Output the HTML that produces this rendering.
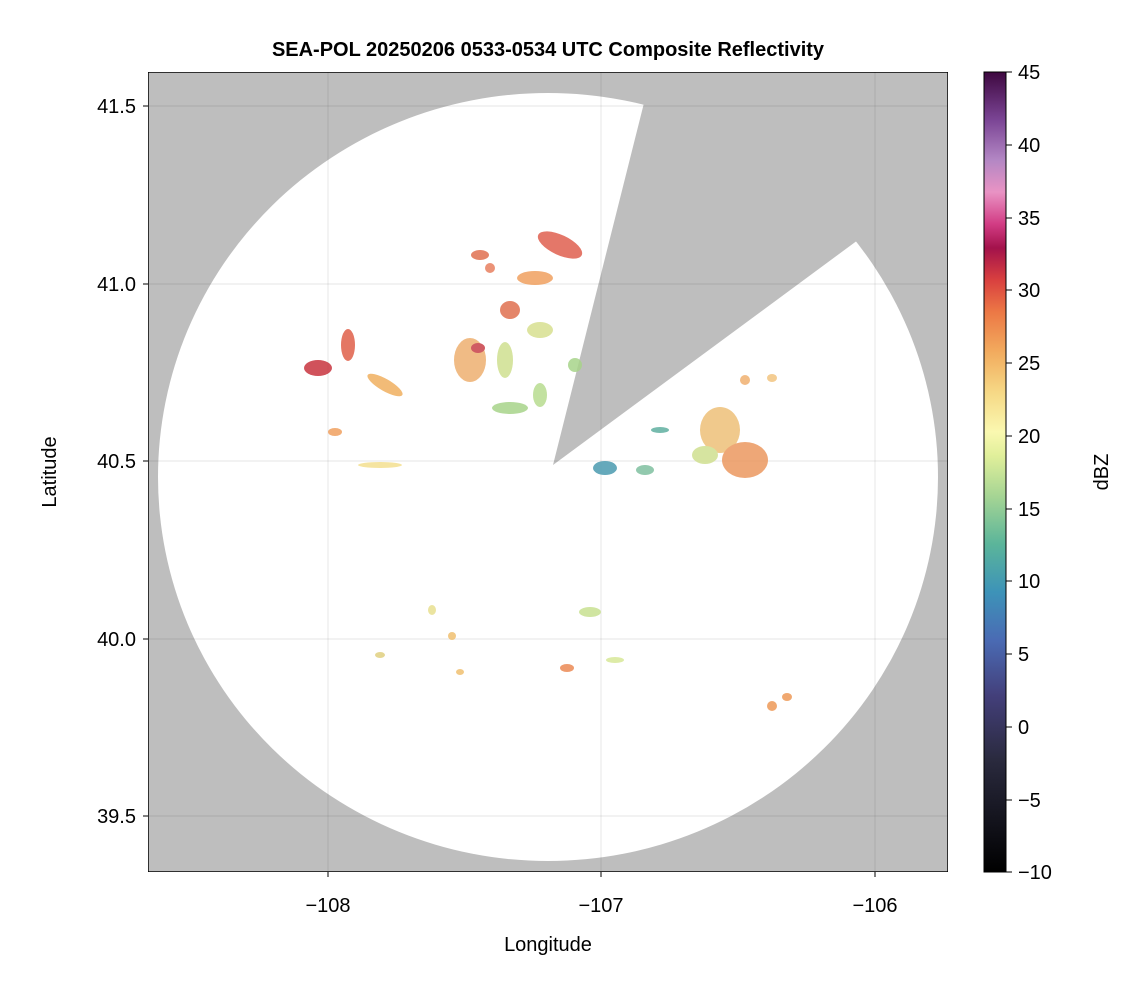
<!DOCTYPE html>
<html><head><style>
body{margin:0;background:#fff;font-family:"Liberation Sans",sans-serif;}
</style></head><body>
<svg width="1146" height="990" xmlns="http://www.w3.org/2000/svg" font-family="Liberation Sans, sans-serif">
<defs>
<clipPath id="pc"><rect x="148" y="72" width="800" height="800"/></clipPath>
<linearGradient id="cb" x1="0" y1="1" x2="0" y2="0">
<stop offset="0" stop-color="#000"/>
<stop offset="0.14" stop-color="#2a2a3e"/>
<stop offset="0.22" stop-color="#433f7a"/>
<stop offset="0.29" stop-color="#4a6bb4"/>
<stop offset="0.35" stop-color="#3d93b8"/>
<stop offset="0.41" stop-color="#5bb59a"/>
<stop offset="0.47" stop-color="#a6d594"/>
<stop offset="0.52" stop-color="#e0ef9a"/>
<stop offset="0.55" stop-color="#faf8b0"/>
<stop offset="0.6" stop-color="#f6d885"/>
<stop offset="0.65" stop-color="#f2ab5e"/>
<stop offset="0.7" stop-color="#ec7845"/>
<stop offset="0.74" stop-color="#d9403f"/>
<stop offset="0.78" stop-color="#a3124b"/>
<stop offset="0.81" stop-color="#d23c84"/>
<stop offset="0.85" stop-color="#e993c4"/>
<stop offset="0.89" stop-color="#b387c4"/>
<stop offset="0.94" stop-color="#7b4595"/>
<stop offset="1" stop-color="#3e0840"/>
</linearGradient>
</defs>
<text x="548" y="56" font-size="20" font-weight="bold" text-anchor="middle">SEA-POL 20250206 0533-0534 UTC Composite Reflectivity</text>
<rect x="148" y="72" width="800" height="800" fill="#bebebe"/>
<g clip-path="url(#pc)">
<ellipse cx="548" cy="477" rx="390" ry="384" fill="#fff"/>
<polygon points="553,465 646,95 650,40 990,40 990,150 858,240" fill="#bebebe"/>
<g stroke="#000" stroke-opacity="0.08" stroke-width="1.2">
<line x1="328" y1="72" x2="328" y2="872"/><line x1="601" y1="72" x2="601" y2="872"/><line x1="875" y1="72" x2="875" y2="872"/>
<line x1="148" y1="106" x2="948" y2="106"/><line x1="148" y1="284" x2="948" y2="284"/><line x1="148" y1="461" x2="948" y2="461"/><line x1="148" y1="639" x2="948" y2="639"/><line x1="148" y1="816" x2="948" y2="816"/>
</g>
<g opacity="0.85">
<ellipse cx="318" cy="368" rx="14" ry="8" fill="#c8343f"/>
<ellipse cx="348" cy="345" rx="7" ry="16" fill="#e0604a"/>
<ellipse cx="385" cy="385" rx="20" ry="6" fill="#f0b060" transform="rotate(30 385 385)"/>
<ellipse cx="335" cy="432" rx="7" ry="4" fill="#f0a060"/>
<ellipse cx="380" cy="465" rx="22" ry="3" fill="#f4e090"/>
<ellipse cx="480" cy="255" rx="9" ry="5" fill="#e07050"/>
<ellipse cx="490" cy="268" rx="5" ry="5" fill="#e88060"/>
<ellipse cx="560" cy="245" rx="24" ry="10" fill="#e06050" transform="rotate(25 560 245)"/>
<ellipse cx="535" cy="278" rx="18" ry="7" fill="#f0a060"/>
<ellipse cx="510" cy="310" rx="10" ry="9" fill="#e07050"/>
<ellipse cx="540" cy="330" rx="13" ry="8" fill="#d8e090"/>
<ellipse cx="470" cy="360" rx="16" ry="22" fill="#eeb070"/>
<ellipse cx="478" cy="348" rx="7" ry="5" fill="#c84048"/>
<ellipse cx="505" cy="360" rx="8" ry="18" fill="#cfe090"/>
<ellipse cx="510" cy="408" rx="18" ry="6" fill="#a8d48a"/>
<ellipse cx="540" cy="395" rx="7" ry="12" fill="#b8dc90"/>
<ellipse cx="575" cy="365" rx="7" ry="7" fill="#a8d48a"/>
<ellipse cx="605" cy="468" rx="12" ry="7" fill="#4b9bb0"/>
<ellipse cx="645" cy="470" rx="9" ry="5" fill="#80c0a0"/>
<ellipse cx="660" cy="430" rx="9" ry="3" fill="#60b0a0"/>
<ellipse cx="720" cy="430" rx="20" ry="23" fill="#eec078"/>
<ellipse cx="745" cy="460" rx="23" ry="18" fill="#ec9860"/>
<ellipse cx="705" cy="455" rx="13" ry="9" fill="#d0e090"/>
<ellipse cx="745" cy="380" rx="5" ry="5" fill="#f0b070"/>
<ellipse cx="772" cy="378" rx="5" ry="4" fill="#f2c480"/>
<ellipse cx="432" cy="610" rx="4" ry="5" fill="#e8e090"/>
<ellipse cx="452" cy="636" rx="4" ry="4" fill="#f0c070"/>
<ellipse cx="380" cy="655" rx="5" ry="3" fill="#e0d080"/>
<ellipse cx="460" cy="672" rx="4" ry="3" fill="#f0c070"/>
<ellipse cx="590" cy="612" rx="11" ry="5" fill="#c8e090"/>
<ellipse cx="567" cy="668" rx="7" ry="4" fill="#ec8a55"/>
<ellipse cx="615" cy="660" rx="9" ry="3" fill="#d8e898"/>
<ellipse cx="772" cy="706" rx="5" ry="5" fill="#ee9a58"/>
<ellipse cx="787" cy="697" rx="5" ry="4" fill="#ee9a58"/>
</g>
<rect x="148" y="72" width="800" height="800" fill="none" stroke="#000" stroke-width="1.5"/>
</g>
<g font-size="20" fill="#000">
<g text-anchor="end">
<text x="136" y="113">41.5</text><text x="136" y="291">41.0</text><text x="136" y="468">40.5</text><text x="136" y="646">40.0</text><text x="136" y="823">39.5</text>
</g>
<g text-anchor="middle">
<text x="328" y="912">−108</text><text x="601" y="912">−107</text><text x="875" y="912">−106</text>
<text x="548" y="951">Longitude</text>
</g>
<text transform="translate(56 472) rotate(-90)" text-anchor="middle">Latitude</text>
<text transform="translate(1108 472) rotate(-90)" text-anchor="middle">dBZ</text>
</g>
<g stroke="#000"><line x1="148" y1="106" x2="143" y2="106"/><line x1="148" y1="284" x2="143" y2="284"/><line x1="148" y1="461" x2="143" y2="461"/><line x1="148" y1="639" x2="143" y2="639"/><line x1="148" y1="816" x2="143" y2="816"/>
<line x1="328" y1="872" x2="328" y2="877"/><line x1="601" y1="872" x2="601" y2="877"/><line x1="875" y1="872" x2="875" y2="877"/></g>
<rect x="984" y="72" width="22" height="800" fill="url(#cb)" stroke="#000" stroke-width="1"/>
<g font-size="20" stroke="none">
<text x="1018" y="79">45</text><text x="1018" y="152">40</text><text x="1018" y="225">35</text><text x="1018" y="297">30</text><text x="1018" y="370">25</text><text x="1018" y="443">20</text><text x="1018" y="516">15</text><text x="1018" y="588">10</text><text x="1018" y="661">5</text><text x="1018" y="734">0</text><text x="1018" y="807">−5</text><text x="1018" y="879">−10</text>
</g>
<g stroke="#000"><line x1="1006" y1="72" x2="1012" y2="72"/><line x1="1006" y1="145" x2="1012" y2="145"/><line x1="1006" y1="218" x2="1012" y2="218"/><line x1="1006" y1="290" x2="1012" y2="290"/><line x1="1006" y1="363" x2="1012" y2="363"/><line x1="1006" y1="436" x2="1012" y2="436"/><line x1="1006" y1="509" x2="1012" y2="509"/><line x1="1006" y1="581" x2="1012" y2="581"/><line x1="1006" y1="654" x2="1012" y2="654"/><line x1="1006" y1="727" x2="1012" y2="727"/><line x1="1006" y1="800" x2="1012" y2="800"/><line x1="1006" y1="872" x2="1012" y2="872"/></g>
</svg>
</body></html>
